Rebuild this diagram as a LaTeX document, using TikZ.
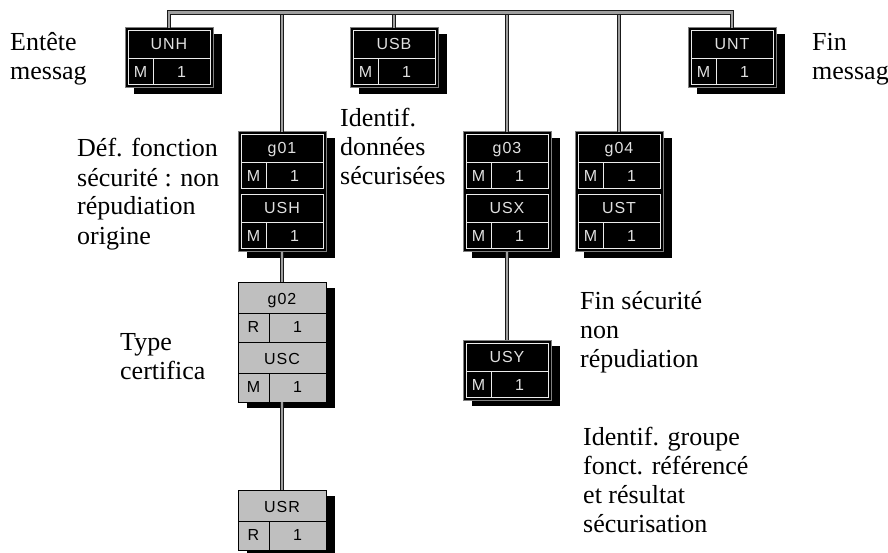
\documentclass[tikz,border=0pt]{standalone}
\usepackage{fontspec}
\setmainfont{Liberation Serif}
\setsansfont{Liberation Sans}[LetterSpace=6]
\usetikzlibrary{calc}

\begin{document}
\begin{tikzpicture}[x=1pt,y=-1pt,
		link/.style={draw=gray!20!black,double=gray!75,double distance=2.4pt,line width=1.2pt},
		boxtext/.style={},
		cell/.style={font=\sffamily\fontsize{16}{16}\selectfont,inner sep=0pt,anchor=base,boxtext},
		note/.style={align=left,font=\fontsize{26}{29}\selectfont,inner sep=0pt,anchor=base west},
		dark/.style={boxfill/.style={fill=black,draw=gray,line width=1pt},
			boxline/.style={draw=white!85!gray,line width=1pt},
			boxtext/.style={text=white!88!black}},
		light/.style={boxfill/.style={fill=gray!50,draw=black,line width=1pt},
			boxline/.style={draw=black,line width=1pt},
			boxtext/.style={text=black}}]
		
		\useasboundingbox (0,0) rectangle (888,553);
		
		% Frame of a segment group with its shadow: name, left x, top y, height
		\newcommand{\msgbox}[4]{%
			\fill[black] (#2+9,#3+6) rectangle ++(88,#4);
			\node[boxfill,anchor=north west,minimum width=88pt,minimum height=#4pt,
			inner sep=0pt,outer sep=0pt] (#1) at (#2,#3) {};
		}
		% One segment: prefix, left x, top y, rim inset, tag, status
		\newcommand{\segment}[6]{%
			\draw[boxline] (#2+#4,#3+#4) rectangle (#2+88-#4,#3+60-#4);
			\draw[boxline] (#2+#4,#3+31) -- (#2+88-#4,#3+31);
			\draw[boxline] (#2+31-#4,#3+31) -- (#2+31-#4,#3+60-#4);
			\node[cell] (#1-tag) at (#2+44,#3+22) {#5};
			\node[cell] (#1-st) at (#2+15.5,#3+50) {#6};
			\node[cell] (#1-rep) at (#2+59.5-#4,#3+50) {1};
		}
		
		% Message level segments and groups 1, 3, 4
		\begin{scope}[dark]
			\msgbox{unh}{125}{28}{60}
			\segment{unh}{125}{28}{3}{UNH}{M}
			\msgbox{usb}{350}{28}{60}
			\segment{usb}{350}{28}{3}{USB}{M}
			\msgbox{unt}{688}{28}{60}
			\segment{unt}{688}{28}{3}{UNT}{M}
			
			\msgbox{g01}{238}{132}{120}
			\segment{g01}{238}{132}{3}{g01}{M}
			\segment{ush}{238}{192}{3}{USH}{M}
			\msgbox{g03}{463}{132}{120}
			\segment{g03}{463}{132}{3}{g03}{M}
			\segment{usx}{463}{192}{3}{USX}{M}
			\msgbox{g04}{575}{132}{120}
			\segment{g04}{575}{132}{3}{g04}{M}
			\segment{ust}{575}{192}{3}{UST}{M}
			
			\msgbox{usy}{463}{340}{60}
			\segment{usy}{463}{340}{3}{USY}{M}
		\end{scope}
		
		% Group 2 (grey)
		\begin{scope}[light]
			\msgbox{g02}{238}{282}{120}
			\segment{g02}{238}{282}{0}{g02}{R}
			\segment{usc}{238}{342}{0}{USC}{M}
			\msgbox{usr}{238}{490}{60}
			\segment{usr}{238}{490}{0}{USR}{R}
		\end{scope}
		
		% Links
		\coordinate (bar) at (450,12.5);
		\foreach \n in {g01,usb,g03,g04}
		\draw[link] (\n.north) -- (\n.north |- bar);
		\draw[link] (unh.north) |- (bar) -| (unt.north);
		\draw[link] (g01.south) -- (g02.north);
		\draw[link] (g02.south) -- (usr.north);
		\draw[link] (g03.south) -- (usy.north);
		
		% Notes (placed at the baseline of their last line)
		\node[note] (hdr) at (10,80) {Entête\\messag};
		\node[note] (trl) at (812,80) {Fin\\messag};
		\node[note] (ident) at (340,185) {Identif.\\données\\sécurisées};
		\node[note] (deffn) at (77,244) {Déf. fonction\\sécurité : non\\répudiation\\origine};
		\node[note] (ctype) at (120,379) {Type\\certifica};
		\node[note] (endsec) at (580,367) {Fin sécurité\\non\\répudiation};
		\node[note] (grpref) at (583,532) {Identif. groupe\\fonct. référencé\\et résultat\\sécurisation};
	\end{tikzpicture}
\end{document}
